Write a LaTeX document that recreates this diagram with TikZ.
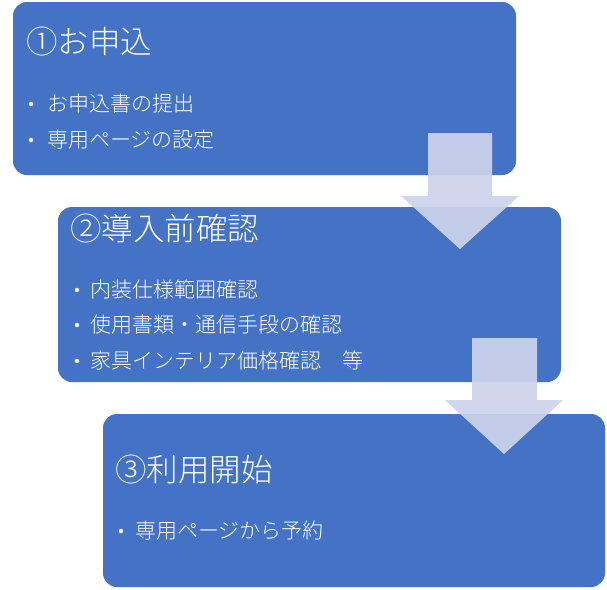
\documentclass[tikz,border=0pt]{standalone}
\usepackage{fontspec}
\setmainfont{Noto Sans CJK JP Light}
\definecolor{boxblue}{RGB}{68,114,196}
\definecolor{arrowgray}{RGB}{204,211,235}
\tikzset{
  stepbox/.style={fill=boxblue, rounded corners=14},
  steptitle/.style={anchor=west, text=white, inner sep=0, font=\fontsize{31.5}{36}\selectfont},
  stepitem/.style={anchor=west, text=white, inner sep=0, font=\fontsize{21}{24}\selectfont},
  dot/.style={circle, fill=white, inner sep=0, minimum size=4.5},
  downarrow/.style={fill=arrowgray, fill opacity=0.93},
}
\begin{document}
\begin{tikzpicture}[x=1pt,y=-1pt]
  \useasboundingbox (0,0) rectangle (607,589);
  % boxes
  \fill[stepbox] (13,2) rectangle (516,175);
  \fill[stepbox] (58,207) rectangle (561,382);
  \fill[stepbox] (103,414) rectangle (605,587);
  % step 1
  \node[steptitle] (t1) at (26,42) {①お申込};
  \node[dot] (d1a) at (31,104) {};
  \node[stepitem] (i1a) at (47,104) {お申込書の提出};
  \node[dot] (d1b) at (31,140) {};
  \node[stepitem] (i1b) at (47,140) {専用ページの設定};
  % step 2
  \node[steptitle] (t2) at (70,229) {②導入前確認};
  \node[dot] (d2a) at (77,290) {};
  \node[stepitem] (i2a) at (90,290) {内装仕様範囲確認};
  \node[dot] (d2b) at (77,325) {};
  \node[stepitem] (i2b) at (90,325) {使用書類・通信手段の確認};
  \node[dot] (d2c) at (77,361) {};
  \node[stepitem] (i2c) at (90,361) {家具インテリア価格確認\hspace{1em}等};
  % step 3
  \node[steptitle] (t3) at (115,470) {③利用開始};
  \node[dot] (d3a) at (121,531) {};
  \node[stepitem] (i3a) at (135,531) {専用ページから予約};
  % arrows
  \fill[downarrow] (428,133) -- (492,133) -- (492,196) -- (519,196)
    -- (460,249) -- (401,196) -- (428,196) -- cycle;
  \fill[downarrow] (472,338) -- (537,338) -- (537,400) -- (563,400)
    -- (504,454) -- (445,400) -- (472,400) -- cycle;
\end{tikzpicture}
\end{document}
